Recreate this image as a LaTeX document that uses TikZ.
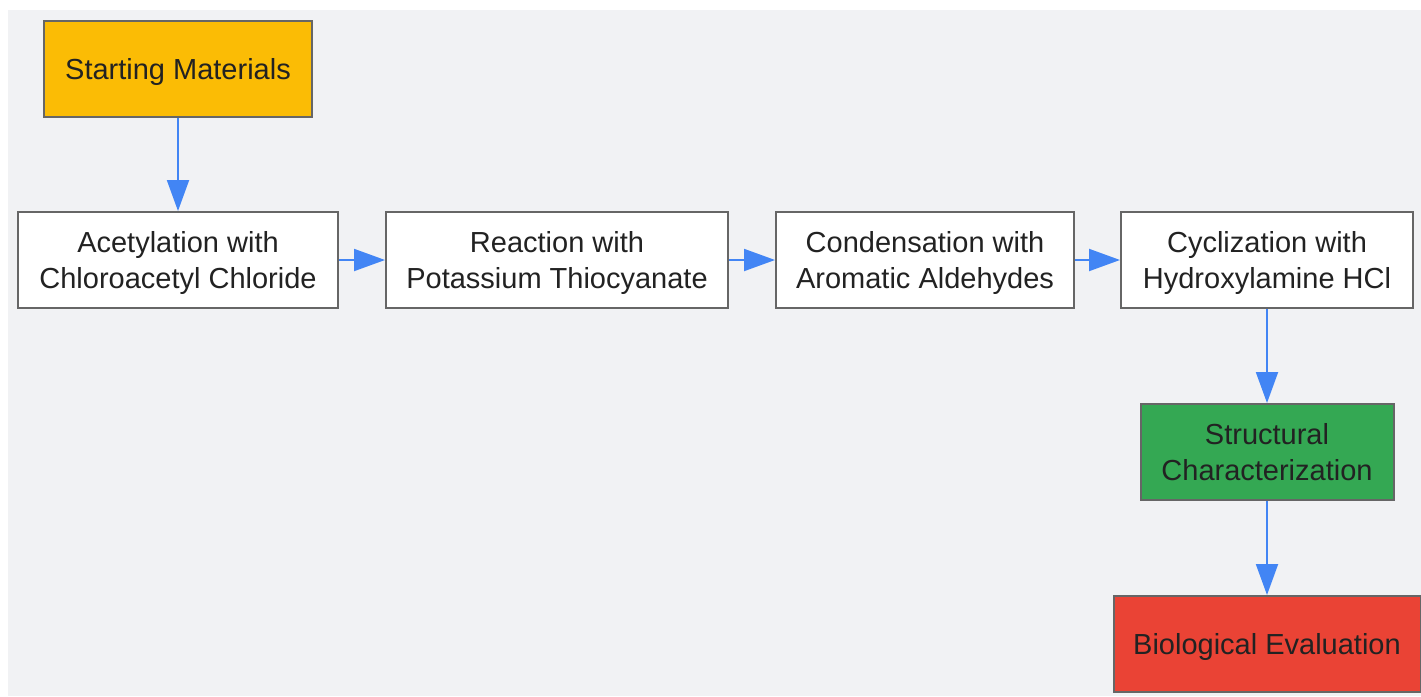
\documentclass[tikz,border=0pt]{standalone}
\usepackage{fontspec}
\setmainfont{Liberation Sans}
\usetikzlibrary{arrows.meta}
\definecolor{bggray}{HTML}{F1F2F4}
\definecolor{edgegray}{HTML}{666666}
\definecolor{flowblue}{HTML}{4285F4}
\definecolor{startyellow}{HTML}{FBBC05}
\definecolor{chargreen}{HTML}{34A853}
\definecolor{evalred}{HTML}{EA4335}
\definecolor{txt}{HTML}{222222}
\begin{document}
\begin{tikzpicture}[x=1pt,y=-1pt,
  stepbox/.style={draw=edgegray, line width=2pt, fill=white, text=txt, align=center,
    minimum height=96pt, inner sep=0pt, text depth=-2pt, font=\fontsize{29}{36}\selectfont},
  flow/.style={draw=flowblue, line width=2pt, -{Triangle[length=31pt,width=22pt]}}]
\useasboundingbox (0,0) rectangle (1421,696);
\fill[bggray] (8,10) rectangle (1421,696);

% Steps
\node[stepbox, fill=startyellow, minimum width=268pt] (start) at (178,68.5) {Starting Materials};
\node[stepbox, minimum width=320pt] (acet) at (178,260) {Acetylation with\\Chloroacetyl Chloride};
\node[stepbox, minimum width=342pt] (react) at (557,260) {Reaction with\\Potassium Thiocyanate};
\node[stepbox, minimum width=298pt] (cond) at (925,260) {Condensation with\\Aromatic Aldehydes};
\node[stepbox, minimum width=292pt] (cycl) at (1267,260) {Cyclization with\\Hydroxylamine HCl};
\node[stepbox, fill=chargreen, minimum width=253pt] (struct) at (1267,452) {Structural\\Characterization};
\node[stepbox, fill=evalred, minimum width=307pt] (bio) at (1267,644) {Biological Evaluation};

% Arrows
\draw[flow] (start) -- (acet);
\draw[flow] (acet) -- (react);
\draw[flow] (react) -- (cond);
\draw[flow] (cond) -- (cycl);
\draw[flow] (cycl) -- (struct);
\draw[flow] (struct) -- (bio);

\end{tikzpicture}
\end{document}
